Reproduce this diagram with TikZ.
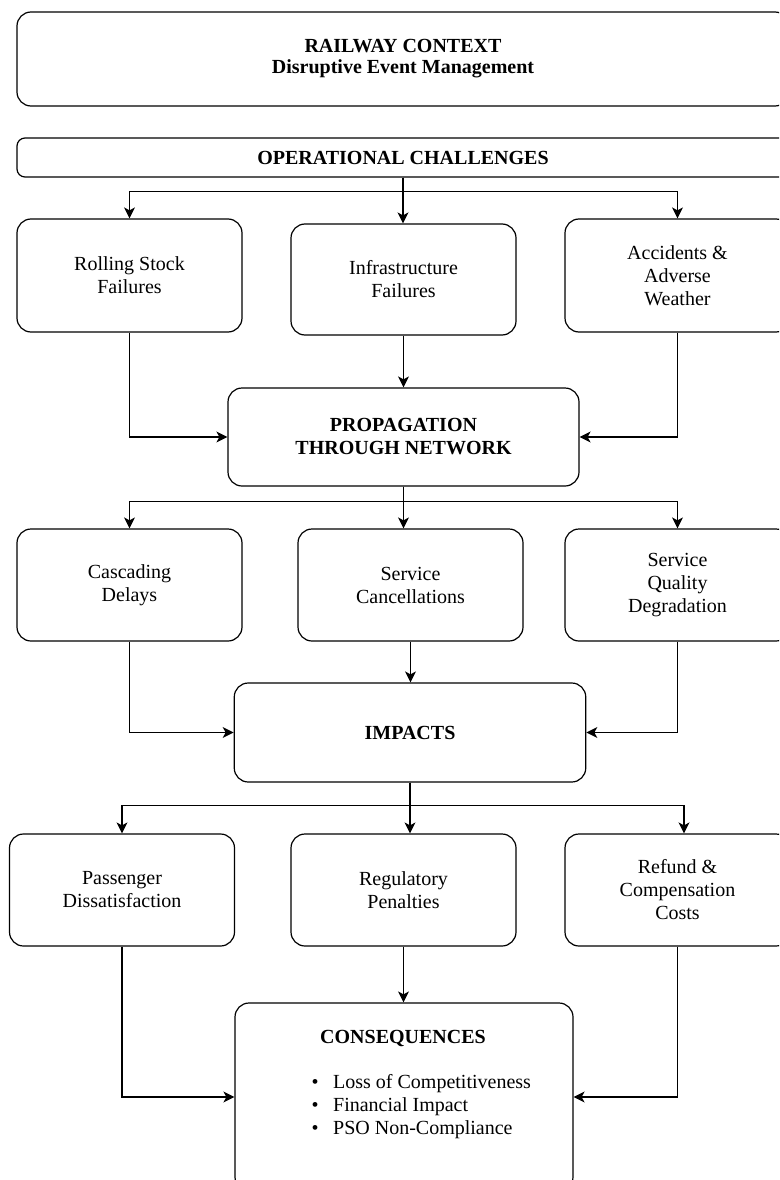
\documentclass[tikz,border=0pt]{standalone}
\usepackage{fontspec}
\setmainfont{Liberation Serif}
\usetikzlibrary{arrows.meta}
\begin{document}
\begin{tikzpicture}[x=1pt,y=-1pt,
  box/.style={draw, line width=1.2pt, rounded corners=14pt, align=center,
    inner sep=0pt, font=\fontsize{20}{23}\selectfont},
  cell/.style={box, minimum width=225pt, minimum height=112pt},
  head/.style={box, font=\fontsize{20}{23}\selectfont\bfseries},
  arr/.style={line width=1.2pt, -{Stealth[length=11pt,width=11pt,inset=3pt]}},
  txt/.style={inner sep=0pt, font=\fontsize{20}{23}\selectfont}]
\clip (0,0) rectangle (779,1180);
\fill[white] (0,0) rectangle (779,1180);

% context and challenges banners
\node[head, minimum width=772pt, minimum height=94pt, font=\fontsize{20}{21}\selectfont\bfseries] (ctx) at (403,59)
  {RAILWAY CONTEXT\\Disruptive Event Management};
\node[head, rounded corners=8pt, minimum width=772pt, minimum height=39pt] (ops) at (403,157.5)
  {OPERATIONAL CHALLENGES};

% causes
\node[cell, minimum height=113pt] (roll) at (129.5,275.5) {Rolling Stock\\Failures};
\node[cell, minimum height=111pt] (infra) at (403.5,279.5) {Infrastructure\\Failures};
\node[cell, minimum height=113pt] (acc) at (677.5,275.5) {Accidents \&\\Adverse\\Weather};

\node[head, minimum width=351pt, minimum height=98pt] (prop) at (403.5,437)
  {PROPAGATION\\THROUGH NETWORK};

% effects
\node[cell] (casc) at (129.5,585) {Cascading\\Delays};
\node[cell] (canc) at (410.5,585) {Service\\Cancellations};
\node[cell] (sq) at (677.5,585) {Service\\Quality\\Degradation};

\node[head, minimum width=351.5pt, minimum height=99pt] (imp) at (410,732.5) {IMPACTS};

% outcomes
\node[cell] (pass) at (122,890) {Passenger\\Dissatisfaction};
\node[cell] (reg) at (403.5,890) {Regulatory\\Penalties};
\node[cell] (ref) at (677.5,890) {Refund \&\\Compensation\\Costs};

\node[box, minimum width=338pt, minimum height=188pt] (cons) at (404,1097) {};
\node[txt, font=\fontsize{20}{23}\selectfont\bfseries, anchor=base] (ctitle) at (403,1043) {CONSEQUENCES};
\node[txt, anchor=base west] (b1) at (311.5,1088) {\makebox[21.5pt][l]{\textbullet}Loss of Competitiveness};
\node[txt, anchor=base west] (b2) at (311.5,1111) {\makebox[21.5pt][l]{\textbullet}Financial Impact};
\node[txt, anchor=base west] (b3) at (311.5,1134) {\makebox[21.5pt][l]{\textbullet}PSO Non-Compliance};

% challenges fan out
\draw[arr] (ops.south) -- ++(0,14) -| (roll.north);
\draw[arr] (ops.south) -- ++(0,14) -| (acc.north);
\draw[arr] (ops.south) -- (ops.south |- infra.north);

% causes feed propagation
\draw[arr] (roll.south) |- (prop.west);
\draw[arr] (infra.south) -- (infra.south |- prop.north);
\draw[arr] (acc.south) |- (prop.east);

% propagation fans out
\draw[arr] (prop.south) -- ++(0,15) -| (casc.north);
\draw[arr] (prop.south) -- ++(0,15) -| (sq.north);
\draw[arr] (prop.south) -- (prop.south |- canc.north);

% effects feed impacts
\draw[arr] (casc.south) |- (imp.west);
\draw[arr] (canc.south) -- (canc.south |- imp.north);
\draw[arr] (sq.south) |- (imp.east);

% impacts fan out
\draw[arr] (imp.south) -- ++(0,23) -| (pass.north);
\draw[arr] (imp.south) -- ++(0,23) -| ([xshift=6.5pt]ref.north);
\draw[arr] (imp.south) -- (imp.south |- reg.north);

% outcomes feed consequences
\draw[arr] (pass.south) |- (cons.west);
\draw[arr] (reg.south) -- (reg.south |- cons.north);
\draw[arr] (ref.south) |- (cons.east);
\end{tikzpicture}
\end{document}
